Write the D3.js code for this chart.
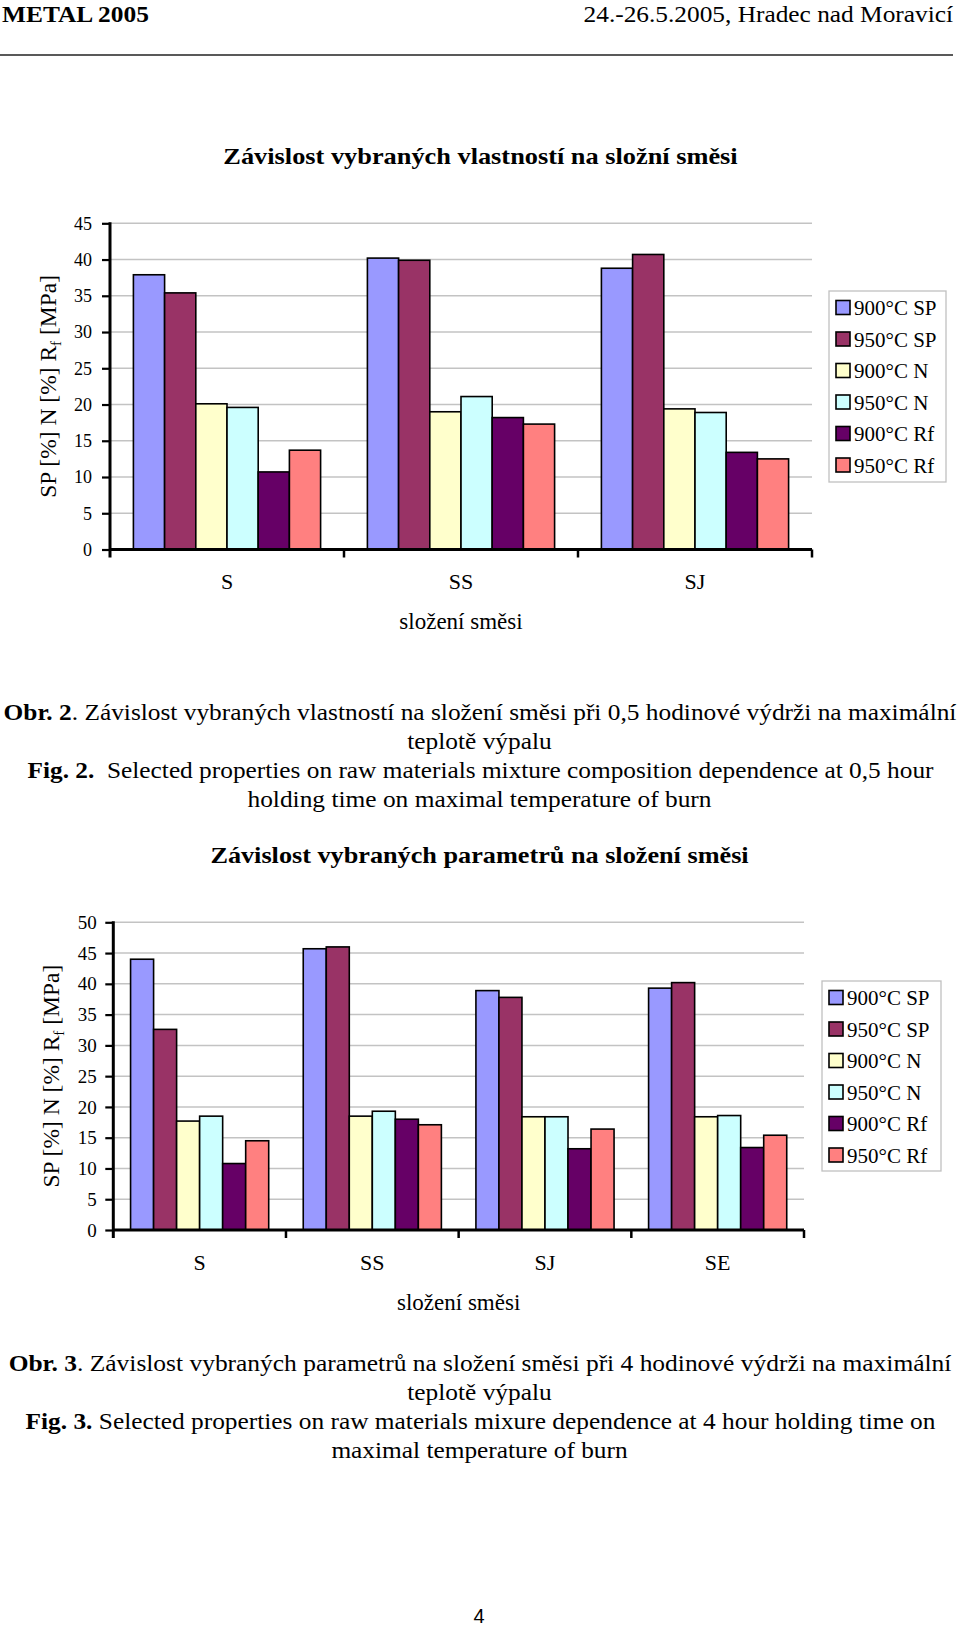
<!DOCTYPE html>
<html><head><meta charset="utf-8">
<script src="https://cdn.jsdelivr.net/npm/d3@7"></script>
<style>
body{margin:0;background:#fff;}
svg{display:block;font-family:'Liberation Serif','Times New Roman',Times,serif;}
</style></head><body>
<svg id="page" width="960" height="1627"></svg>
<script>
// ---------- data ----------
const series = ["900°C SP","950°C SP","900°C N","950°C N","900°C Rf","950°C Rf"];
const seriesColors = ["#9999FF","#993366","#FFFFCC","#CCFFFF","#660066","#FF8080"];

// Fig. 2 (0,5 h)
const categories1 = ["S","SS","SJ"];
const sp900_1 = [37.9, 40.2, 38.8];
const sp950_1 = [35.4, 39.9, 40.7];
const n900_1  = [20.1, 19.0, 19.4];
const n950_1  = [19.6, 21.1, 18.9];
const rf900_1 = [10.7, 18.2, 13.4];
const rf950_1 = [13.7, 17.3, 12.5];
const ticks1 = [0,5,10,15,20,25,30,35,40,45];

// Fig. 3 (4 h)
const categories2 = ["S","SS","SJ","SE"];
const sp900_2 = [44.0, 45.7, 38.9, 39.3];
const sp950_2 = [32.6, 46.0, 37.8, 40.2];
const n900_2  = [17.7, 18.5, 18.4, 18.4];
const n950_2  = [18.5, 19.3, 18.4, 18.6];
const rf900_2 = [10.8, 18.0, 13.2, 13.4];
const rf950_2 = [14.5, 17.1, 16.4, 15.4];
const ticks2 = [0,5,10,15,20,25,30,35,40,45,50];

const xAxisTitle = "složení směsi";
const SERIF = "'Liberation Serif','Times New Roman',Times,serif";

// ---------- helpers ----------
const svg = d3.select("#page");
svg.append("rect").attr("width",960).attr("height",1627).attr("fill","#fff");

function fitText(parent, x, y, anchor, size, target, parts, family) {
  const g = parent.append("g");
  const t = g.append("text").attr("text-anchor", anchor).attr("font-size", size)
    .attr("fill","#000").style("white-space","pre").style("font-family", family || SERIF);
  parts.forEach(p => {
    t.append("tspan").attr("font-weight", p.bold ? "bold" : "normal").text(p.t);
  });
  const w = t.node().getBBox().width;
  const k = target ? target / w : 1;
  g.attr("transform", `translate(${x},${y}) scale(${k},1)`);
  return g;
}

function drawChart(o) {
  const g = svg.append("g").style("font-family", SERIF);
  const y = d3.scaleLinear().domain([0, o.yMax]).range([o.y0, o.yTop]);
  const x0 = d3.scaleBand().domain(o.categories).range([o.xL, o.xR]).paddingInner(0.2).paddingOuter(0.1);
  const x1 = d3.scaleBand().domain(series).range([0, x0.bandwidth()]);

  g.append("g").selectAll("line").data(o.ticks.filter(t => t > 0)).join("line")
    .attr("x1", o.xL).attr("x2", o.xR)
    .attr("y1", d => y(d)).attr("y2", d => y(d))
    .attr("stroke", "#c3c3c3").attr("stroke-width", 1.5);

  const rows = o.categories.map((c, i) => ({
    c, vals: series.map((s, j) => ({ s, v: o.values[j][i], color: seriesColors[j] }))
  }));
  g.append("g").selectAll("g").data(rows).join("g")
    .attr("transform", d => `translate(${x0(d.c)},0)`)
    .selectAll("rect").data(d => d.vals).join("rect")
    .attr("x", d => x1(d.s)).attr("width", x1.bandwidth())
    .attr("y", d => y(d.v)).attr("height", d => y(0) - y(d.v))
    .attr("fill", d => d.color).attr("stroke", "#000").attr("stroke-width", 1.6);

  const ya = g.append("g").attr("transform", `translate(${o.xL},0)`)
    .call(d3.axisLeft(y).tickValues(o.ticks).tickSize(8).tickPadding(o.tickPad).tickSizeOuter(0));
  ya.attr("font-family", null).style("font-family", SERIF);
  ya.select(".domain").remove();
  ya.selectAll(".tick line").attr("stroke", "#000").attr("stroke-width", 2.2);
  ya.selectAll(".tick text").attr("font-size", o.tickFont).attr("fill", "#000").style("font-family", SERIF);
  g.append("line").attr("x1", o.xL).attr("x2", o.xL).attr("y1", y(o.yMax) - 1).attr("y2", y(0) + 8)
    .attr("stroke", "#000").attr("stroke-width", 3);

  g.append("line").attr("x1", o.xL).attr("x2", o.xR).attr("y1", y(0)).attr("y2", y(0))
    .attr("stroke", "#000").attr("stroke-width", 3);
  const bounds = o.categories.map(c => x0(c) - x0.step() * x0.paddingOuter());
  bounds.push(o.xR);
  g.append("g").selectAll("line").data(bounds.slice(1)).join("line")
    .attr("x1", d => d).attr("x2", d => d).attr("y1", y(0)).attr("y2", y(0) + 8)
    .attr("stroke", "#000").attr("stroke-width", 2.5);
  const xa = g.append("g").attr("transform", `translate(0,${y(0)})`)
    .call(d3.axisBottom(x0).tickSize(0).tickPadding(o.catPad));
  xa.attr("font-family", null).style("font-family", SERIF);
  xa.select(".domain").remove();
  xa.selectAll(".tick text").attr("font-size", 22).attr("fill", "#000").style("font-family", SERIF);

  g.append("text").attr("x", (o.xL + o.xR) / 2).attr("y", o.xTitleY)
    .attr("text-anchor", "middle").attr("font-size", 23).text(xAxisTitle);

  const yt = g.append("text")
    .attr("transform", `translate(${o.yTitleX},${(y(0) + y(o.yMax)) / 2}) rotate(-90)`)
    .attr("text-anchor", "middle").attr("font-size", 23.5).style("white-space", "pre");
  yt.append("tspan").text("SP [%] N [%] R");
  yt.append("tspan").attr("font-size", 15).attr("dy", 5).text("f");
  yt.append("tspan").attr("dy", -5).text(" [MPa]");

  const L = o.legend;
  g.append("rect").attr("x", L.x).attr("y", L.y).attr("width", L.w).attr("height", L.h)
    .attr("fill", "#fff").attr("stroke", "#c0c0c0").attr("stroke-width", 1.3);
  const li = g.append("g").selectAll("g").data(series).join("g")
    .attr("transform", (d, i) => `translate(${L.x + 7},${L.y + 16.5 + i * 31.5})`);
  li.append("rect").attr("x", 0).attr("y", -7).attr("width", 14).attr("height", 14)
    .attr("fill", (d, i) => seriesColors[i]).attr("stroke", "#000").attr("stroke-width", 1.6);
  li.append("text").attr("x", 18).attr("y", 7.5).attr("font-size", 21).text(d => d);

  fitText(svg, o.title.cx, o.title.y, "middle", 24, o.title.w, [{ t: o.title.text, bold: true }]);
}

// ---------- header ----------
fitText(svg, 2, 21.5, "start", 24, 147, [{ t: "METAL 2005", bold: true }]);
fitText(svg, 953, 21.5, "end", 24, 370, [{ t: "24.-26.5.2005, Hradec nad Moravicí" }]);
svg.append("line").attr("x1", 0).attr("x2", 953).attr("y1", 55).attr("y2", 55)
  .attr("stroke", "#222").attr("stroke-width", 1.5);

// ---------- chart 1 ----------
drawChart({
  categories: categories1,
  values: [sp900_1, sp950_1, n900_1, n950_1, rf900_1, rf950_1],
  ticks: ticks1, yMax: 45,
  xL: 110, xR: 812, y0: 549.5, yTop: 223.3,
  tickPad: 10, tickFont: 18, catPad: 24, xTitleY: 629,
  yTitleX: 56,
  legend: { x: 829, y: 291, w: 117, h: 191 },
  title: { cx: 480.5, y: 163.5, w: 515, text: "Závislost vybraných vlastností na složní směsi" }
});

fitText(svg, 480, 720, "middle", 23, 954, [{ t: "Obr. 2", bold: true }, { t: ". Závislost vybraných vlastností na složení směsi při 0,5 hodinové výdrži na maximální" }]);
fitText(svg, 479.5, 749, "middle", 23, 145, [{ t: "teplotě výpalu" }]);
fitText(svg, 480.5, 777.5, "middle", 23, 907, [{ t: "Fig. 2.", bold: true }, { t: "  Selected properties on raw materials mixture composition dependence at 0,5 hour" }]);
fitText(svg, 479.5, 806.5, "middle", 23, 465, [{ t: "holding time on maximal temperature of burn" }]);

// ---------- chart 2 ----------
drawChart({
  categories: categories2,
  values: [sp900_2, sp950_2, n900_2, n950_2, rf900_2, rf950_2],
  ticks: ticks2, yMax: 50,
  xL: 113.3, xR: 804, y0: 1230, yTop: 922.3,
  tickPad: 8.6, tickFont: 19, catPad: 24, xTitleY: 1309.5,
  yTitleX: 59,
  legend: { x: 822, y: 981, w: 119, h: 190 },
  title: { cx: 479.5, y: 863, w: 539, text: "Závislost vybraných parametrů na složení směsi" }
});

fitText(svg, 480, 1371, "middle", 23, 944, [{ t: "Obr. 3", bold: true }, { t: ". Závislost vybraných parametrů na složení směsi při 4 hodinové výdrži na maximální" }]);
fitText(svg, 479.5, 1400, "middle", 23, 145, [{ t: "teplotě výpalu" }]);
fitText(svg, 480.5, 1429, "middle", 23, 911, [{ t: "Fig. 3.", bold: true }, { t: " Selected properties on raw materials mixure dependence at 4 hour holding time on" }]);
fitText(svg, 479.5, 1458, "middle", 23, 297, [{ t: "maximal temperature of burn" }]);

svg.append("text").attr("x", 479).attr("y", 1623).attr("text-anchor", "middle")
  .attr("font-size", 20).style("font-family", "'Liberation Sans',Arial,sans-serif").text("4");
</script>
</body></html>
